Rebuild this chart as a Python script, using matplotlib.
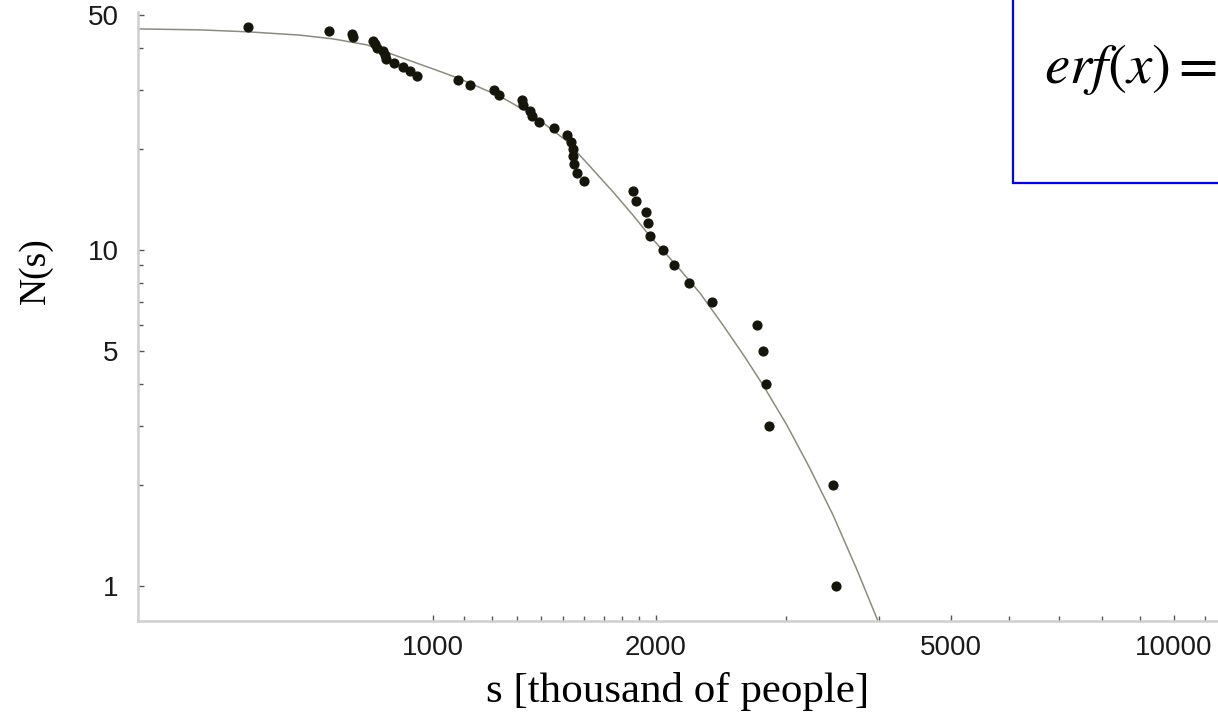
import numpy as np
import matplotlib.pyplot as plt
from matplotlib.patches import Rectangle
from matplotlib.ticker import FixedLocator, NullFormatter, FixedFormatter

plt.rcParams['mathtext.fontset'] = 'stix'

# city sizes (thousand of people) and their rank N(s)
s_pts = [563, 724, 778, 780, 829, 835, 840, 856, 861, 864, 886, 911, 931, 951,
         1081, 1122, 1208, 1227, 1319, 1323, 1352, 1361, 1391, 1456, 1516, 1535,
         1545, 1545, 1550, 1564, 1599, 1861, 1879, 1938, 1951, 1964, 2044, 2114,
         2215, 2380, 2737, 2788, 2814, 2841, 3466, 3498]
n_pts = list(range(46, 0, -1))

# fitted curve
s_fit = [400, 485, 563, 662, 733, 814, 903, 1000, 1081, 1231, 1365, 1516, 1614,
         1750, 1862, 1963, 2135, 2293, 2463, 2637, 2788, 3005, 3227, 3466, 3734, 3987]
n_fit = [45.5, 45.2, 44.6, 43.6, 42.5, 40.8, 37.5, 34.6, 32.5, 28.7, 25.2, 21.1,
         18.15, 14.9, 12.7, 11.0, 8.96, 7.45, 5.98, 4.80, 3.97, 3.01, 2.24, 1.63,
         1.12, 0.787]

x_major = [1000, 2000, 5000, 10000]
x_minor = [1100, 1200, 1300, 1400, 1500, 1600, 1700, 1800, 1900, 3000, 4000,
           6000, 7000, 8000, 9000, 11000]
y_major = [1, 5, 10, 50]
y_minor = [2, 3, 4, 6, 7, 8, 9, 20, 30, 40]

fig = plt.figure(figsize=(12.18, 7.17), dpi=100)
ax = fig.add_axes([0.1133, 0.1339, 0.8867, 0.8494])

ax.plot(s_fit, n_fit, color='#8c8c7c', lw=1.1, zorder=2)
ax.scatter(s_pts, n_pts, s=40, color='#15150a', zorder=3)

ax.set_xscale('log')
ax.set_yscale('log')
ax.set_xlim(400, 11470)
ax.set_ylim(0.787, 51.1)

ax.xaxis.set_major_locator(FixedLocator(x_major))
ax.xaxis.set_major_formatter(FixedFormatter([str(v) for v in x_major]))
ax.xaxis.set_minor_locator(FixedLocator(x_minor))
ax.xaxis.set_minor_formatter(NullFormatter())
ax.yaxis.set_major_locator(FixedLocator(y_major))
ax.yaxis.set_major_formatter(FixedFormatter([str(v) for v in y_major]))
ax.yaxis.set_minor_locator(FixedLocator(y_minor))
ax.yaxis.set_minor_formatter(NullFormatter())

for side in ['top', 'right']:
    ax.spines[side].set_visible(False)
for side in ['left', 'bottom']:
    ax.spines[side].set_color('#cfcfcf')
    ax.spines[side].set_linewidth(1.8)

ax.tick_params(which='both', direction='in', color='#555555', width=1.0)
ax.tick_params(which='major', length=4)
ax.tick_params(which='minor', length=3.5)
ax.tick_params(axis='x', which='major', pad=10)
ax.tick_params(axis='y', which='major', pad=14)
for lab in ax.get_xticklabels() + ax.get_yticklabels():
    lab.set_family('Liberation Sans')
    lab.set_fontsize(20)
    lab.set_color('#1a1a1a')

ax.set_xlabel('s [thousand of people]', family='Liberation Serif', fontsize=31, labelpad=8)
ax.set_ylabel('N(s)', family='Liberation Serif', fontsize=27)
ax.yaxis.set_label_coords(-0.079, 0.575)

box = Rectangle((1013 / 1218, 1 - 183 / 717), 0.4, 0.5, transform=fig.transFigure,
                facecolor='white', edgecolor='#0000ff', lw=1.6, zorder=10)
fig.patches.append(box)
fig.text(1044 / 1218, 1 - 83 / 717, r'$erf(x)=$', fontsize=41, va='baseline',
         ha='left', zorder=11)

fig.savefig('out.png', dpi=100)
